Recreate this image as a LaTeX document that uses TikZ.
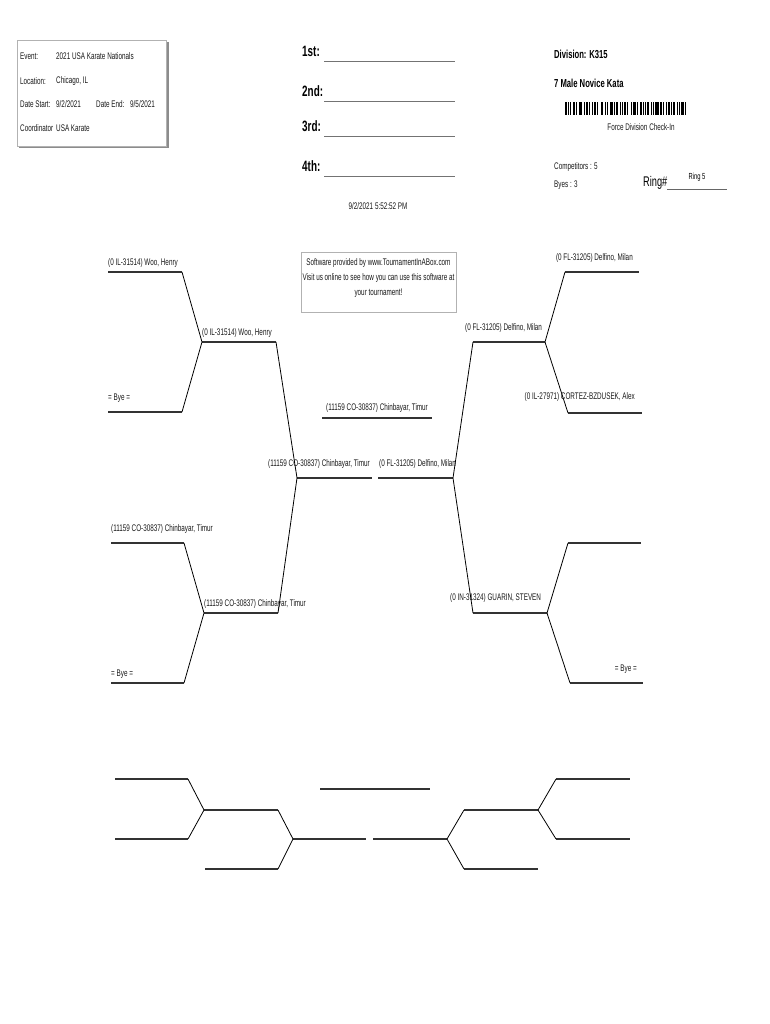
\documentclass[tikz,border=0pt]{standalone}
\usepackage{fontspec}
\setmainfont{Liberation Sans}[FakeStretch=0.66]
\begin{document}
\begin{tikzpicture}[x=1pt,y=-1pt,
  slot/.style={line width=1.8pt, draw=black!80},
  wslot/.style={line width=2.3pt, draw=black!80},
  conn/.style={line width=0.8pt, draw=black},
  txt/.style={font=\fontsize{9.6}{10}\selectfont, inner sep=0pt, text=black!90},
  bigtxt/.style={font=\fontsize{15}{17}\selectfont\bfseries, inner sep=0pt},
  divtxt/.style={font=\fontsize{11.6}{13}\selectfont\bfseries, inner sep=0pt},
  placeline/.style={line width=0.7pt, draw=black!55},
  thinbox/.style={line width=0.5pt, draw=black!30}]
\useasboundingbox[fill=white] (0,0) rectangle (770,1024);

% ---------- info box ----------
\fill[black!45] (19,42) rectangle (168.5,148.5);
\filldraw[fill=white, thinbox] (17,40) rectangle (166.5,146.5);
\node[txt, anchor=west] (evL) at (20,56) {Event:};
\node[txt, anchor=west] (evV) at (56,56) {2021 USA Karate Nationals};
\node[txt, anchor=west] (loL) at (20,81) {Location:};
\node[txt, anchor=west] (loV) at (56,81) {Chicago, IL};
\node[txt, anchor=west] (dsL) at (20,104) {Date Start:};
\node[txt, anchor=west] (dsV) at (56,104) {9/2/2021};
\node[txt, anchor=west] (deL) at (96,104) {Date End:};
\node[txt, anchor=west] (deV) at (130,104) {9/5/2021};
\node[txt, anchor=west] (coL) at (20,128) {Coordinator};
\node[txt, anchor=west] (coV) at (56,128) {USA Karate};

% ---------- places ----------
\node[bigtxt, anchor=base west] (p1) at (302,57) {1st:};
\node[bigtxt, anchor=base west] (p2) at (302,97) {2nd:};
\node[bigtxt, anchor=base west] (p3) at (302,132) {3rd:};
\node[bigtxt, anchor=base west] (p4) at (302,172) {4th:};
\coordinate (p1a) at (324,61); \coordinate (p1b) at (455,61);
\coordinate (p2a) at (324,101); \coordinate (p2b) at (455,101);
\coordinate (p3a) at (324,136); \coordinate (p3b) at (455,136);
\coordinate (p4a) at (324,176); \coordinate (p4b) at (455,176);
\draw[placeline] (p1a) -- (p1b);
\draw[placeline] (p2a) -- (p2b);
\draw[placeline] (p3a) -- (p3b);
\draw[placeline] (p4a) -- (p4b);
\node[txt] (stamp) at (378,206) {9/2/2021 5:52:52 PM};

% ---------- division ----------
\node[divtxt, anchor=west] (div) at (554,54) {Division: K315};
\node[divtxt, anchor=west] (dname) at (554,83) {7 Male Novice Kata};
\gdef\bx{565}
\foreach \w/\s in {2/1,1/1,1/2,2/1,1/1,3/2,1/1,2/1,1/2,1/1,2/1,1/3,2/1,1/1,1/2,3/1,1/1,2/2,1/1,1/1,2/1,1/2,1/1,3/1,1/2,2/1,1/1,1/1,2/2,1/1,1/1,3/1,2/1,1/2,1/1,2/1,1/1,2/2,1/1,1/1,2/1,1/1}{
  \fill[black] (\bx,102) rectangle ++(\w*1.04,13);
  \pgfmathsetmacro\nbx{\bx+(\w+\s)*1.04}
  \xdef\bx{\nbx}
}
\node[txt] (force) at (641,127) {Force Division Check-In};
\node[txt, anchor=west] (comp) at (554,167) {Competitors : 5};
\node[txt, anchor=west] (byes) at (554,185) {Byes : 3};
\node[font=\fontsize{14}{15}\selectfont, inner sep=0pt, anchor=base west] (ring) at (643,187) {Ring\#};
\coordinate (ringA) at (667,189); \coordinate (ringB) at (727,189);
\draw[line width=0.6pt, draw=black!60] (ringA) -- (ringB);
\node[font=\fontsize{8.8}{10}\selectfont, inner sep=0pt] (ring5) at (697,177) {Ring 5};

% ---------- sponsor box ----------
\node[thinbox, draw, minimum width=155pt, minimum height=60pt, inner sep=0pt] (spons) at (378.5,282) {};
\node[txt] (sp1) at (378.5,263) {Software provided by www.TournamentInABox.com};
\node[txt] (sp2) at (378.5,278) {Visit us online to see how you can use this software at};
\node[txt] (sp3) at (378.5,293) {your tournament!};

% ---------- main bracket: coordinates ----------
\coordinate (a1s) at (108,272); \coordinate (a1e) at (182,272);
\coordinate (a2s) at (108,412); \coordinate (a2e) at (182,412);
\coordinate (b1s) at (202,342); \coordinate (b1e) at (276,342);
\coordinate (a3s) at (111,543); \coordinate (a3e) at (184,543);
\coordinate (a4s) at (111,683); \coordinate (a4e) at (184,683);
\coordinate (b2s) at (204,613); \coordinate (b2e) at (278,613);
\coordinate (c1s) at (297,478); \coordinate (c1e) at (372,478);
\coordinate (c2s) at (378,478); \coordinate (c2e) at (453,478);
\coordinate (chs) at (322,418); \coordinate (che) at (432,418);
\coordinate (r1s) at (565,272); \coordinate (r1e) at (639,272);
\coordinate (r2s) at (568,413); \coordinate (r2e) at (642,413);
\coordinate (rb1s) at (473,342); \coordinate (rb1e) at (545,342);
\coordinate (r3s) at (568,543); \coordinate (r3e) at (641,543);
\coordinate (r4s) at (570,683); \coordinate (r4e) at (643,683);
\coordinate (rb2s) at (473,613); \coordinate (rb2e) at (547,613);

\foreach \p in {a1,a2,b1,a3,a4,b2,c1,c2,ch,r1,r2,rb1,r3,r4,rb2}
  \draw[slot] (\p s) -- (\p e);
\draw[conn] (a1e) -- (b1s) -- (a2e);
\draw[conn] (a3e) -- (b2s) -- (a4e);
\draw[conn] (b1e) -- (c1s) -- (b2e);
\draw[conn] (r1s) -- (rb1e) -- (r2s);
\draw[conn] (r3s) -- (rb2e) -- (r4s);
\draw[conn] (rb1s) -- (c2e) -- (rb2s);

% ---------- main bracket: names ----------
\node[txt, anchor=base west] (n1) at (108,265) {(0 IL-31514) Woo, Henry};
\node[txt, anchor=base west] (n2) at (108,400) {= Bye =};
\node[txt, anchor=base west] (n3) at (202,335) {(0 IL-31514) Woo, Henry};
\node[txt, anchor=base west] (n4) at (111,531) {(11159 CO-30837) Chinbayar, Timur};
\node[txt, anchor=base west] (n5) at (111,676) {= Bye =};
\node[txt, anchor=base west] (n6) at (204,606) {(11159 CO-30837) Chinbayar, Timur};
\node[txt, anchor=base east] (n7) at (370,466) {(11159 CO-30837) Chinbayar, Timur};
\node[txt, anchor=base west] (n8) at (379,466) {(0 FL-31205) Delfino, Milan};
\node[txt, anchor=base] (n9) at (377,410) {(11159 CO-30837) Chinbayar, Timur};
\node[txt, anchor=base east] (n10) at (633,260) {(0 FL-31205) Delfino, Milan};
\node[txt, anchor=base west] (n11) at (465,330) {(0 FL-31205) Delfino, Milan};
\node[txt, anchor=base east] (n12) at (635,399) {(0 IL-27971) CORTEZ-BZDUSEK, Alex};
\node[txt, anchor=base west] (n13) at (450,600) {(0 IN-31324) GUARIN, STEVEN};
\node[txt, anchor=base east] (n14) at (637,671) {= Bye =};

% ---------- consolation bracket ----------
\coordinate (kAs) at (115,779); \coordinate (kAe) at (188,779);
\coordinate (kBs) at (115,839); \coordinate (kBe) at (188,839);
\coordinate (kCs) at (204,810); \coordinate (kCe) at (278,810);
\coordinate (kDs) at (205,869); \coordinate (kDe) at (278,869);
\coordinate (kEs) at (293,839); \coordinate (kEe) at (366,839);
\coordinate (kTs) at (320,789); \coordinate (kTe) at (430,789);
\coordinate (kFs) at (373,839); \coordinate (kFe) at (447,839);
\coordinate (kGs) at (464,810); \coordinate (kGe) at (538,810);
\coordinate (kHs) at (556,779); \coordinate (kHe) at (630,779);
\coordinate (kIs) at (556,839); \coordinate (kIe) at (630,839);
\coordinate (kJs) at (464,869); \coordinate (kJe) at (538,869);
\foreach \p in {kA,kB,kD,kE,kT,kF,kH,kI,kJ}
  \draw[slot] (\p s) -- (\p e);
\foreach \p in {kC,kG}
  \draw[wslot] (\p s) -- (\p e);
\draw[conn] (kAe) -- (kCs) -- (kBe);
\draw[conn] (kCe) -- (kEs) -- (kDe);
\draw[conn] (kGs) -- (kFe) -- (kJs);
\draw[conn] (kHs) -- (kGe) -- (kIs);
\end{tikzpicture}
\end{document}
